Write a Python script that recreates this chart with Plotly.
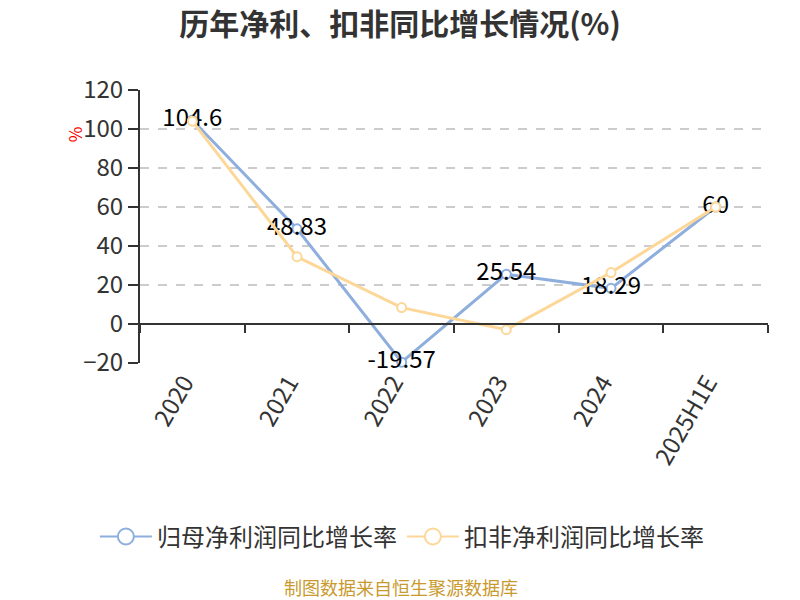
import plotly.graph_objects as go

categories = ["2020", "2021", "2022", "2023", "2024", "2025H1E"]
net_profit_growth = [104.6, 48.83, -19.57, 25.54, 18.29, 60]
deducted_growth = [104.0, 34.5, 8.4, -2.9, 26.4, 60]
series_names = ["归母净利润同比增长率", "扣非净利润同比增长率"]
y_ticks = [-20, 0, 20, 40, 60, 80, 100, 120]

FONT = "Noto Sans CJK SC"
BLUE = "#8eaedd"
YELLOW = "#fdd797"

fig = go.Figure()

# invisible trace to carry the zero-crossing axis with boundary ticks
fig.add_trace(go.Scatter(
    x=categories, y=[0] * len(categories), xaxis="x2", yaxis="y",
    mode="markers", marker=dict(opacity=0), showlegend=False, hoverinfo="skip",
))

fig.add_trace(go.Scatter(
    x=categories, y=net_profit_growth, name=series_names[0],
    mode="lines+markers+text", showlegend=False, legendgroup="a",
    cliponaxis=False,
    line=dict(color=BLUE, width=3),
    marker=dict(symbol="circle", size=9, color="white", line=dict(color=BLUE, width=2)),
    text=[f"{v:g}" for v in net_profit_growth],
    textposition="middle center",
    textfont=dict(family=FONT, size=24, color="#000000"),
))

fig.add_trace(go.Scatter(
    x=categories, y=deducted_growth, name=series_names[1],
    mode="lines+markers", showlegend=False, legendgroup="b",
    cliponaxis=False,
    line=dict(color=YELLOW, width=3),
    marker=dict(symbol="circle", size=9, color="white", line=dict(color=YELLOW, width=2)),
))

# legend entries with larger symbols
for name, color, grp in [(series_names[0], BLUE, "a"), (series_names[1], YELLOW, "b")]:
    fig.add_trace(go.Scatter(
        x=[None], y=[None], name=name, mode="lines+markers", legendgroup=grp,
        line=dict(color=color, width=2),
        marker=dict(symbol="circle", size=16, color="white", line=dict(color=color, width=2)),
    ))

fig.update_layout(
    width=800, height=600,
    paper_bgcolor="white", plot_bgcolor="white",
    margin=dict(l=140, r=32, t=90, b=237),
    font=dict(family=FONT, color="#333333"),
    title=dict(
        text="<b>历年净利、扣非同比增长情况(%)</b>",
        x=0.5, xanchor="center", y=0.96, yanchor="middle",
        font=dict(family=FONT, size=30, color="#333333"),
    ),
    xaxis=dict(
        type="category", range=[-0.5, 5.5],
        showline=False, showgrid=False, zeroline=False, ticks="",
        tickangle=-60, ticklabelshift=-8,
        tickfont=dict(family=FONT, size=24, color="#333333"),
    ),
    xaxis2=dict(
        type="category", overlaying="x", anchor="free",
        position=(0 - y_ticks[0]) / (y_ticks[-1] - y_ticks[0]),
        range=[-0.5, 5.5], matches="x",
        showline=True, linecolor="#333333", linewidth=2,
        ticks="outside", tickson="boundaries", ticklen=8, tickwidth=2, tickcolor="#333333",
        showticklabels=False, showgrid=False, zeroline=False,
    ),
    yaxis=dict(
        range=[y_ticks[0], y_ticks[-1]], tickvals=y_ticks,
        showline=True, linecolor="#333333", linewidth=2,
        ticks="outside", ticklen=10, tickwidth=2, tickcolor="#333333",
        showgrid=True, gridcolor="#cccccc", griddash="dash", gridwidth=1.5,
        zeroline=False,
        tickfont=dict(family=FONT, size=24, color="#333333"),
    ),
    legend=dict(
        orientation="h", x=0.417, xanchor="center", y=-0.637, yanchor="middle",
        font=dict(family=FONT, size=24, color="#333333"),
        itemwidth=52,
    ),
    showlegend=True,
    annotations=[
        dict(text="%", xref="paper", yref="paper", x=-0.128, y=0.875,
             showarrow=False, textangle=-90,
             font=dict(family=FONT, size=17, color="#ff0000")),
        dict(text="制图数据来自恒生聚源数据库", xref="paper", yref="paper",
             x=0.415, y=-0.822, xanchor="center", yanchor="middle", showarrow=False,
             font=dict(family=FONT, size=18, color="#c99a2e")),
    ],
)

fig.write_html("out.html", config={"displayModeBar": False},
               post_script="document.body.style.margin='0';")
